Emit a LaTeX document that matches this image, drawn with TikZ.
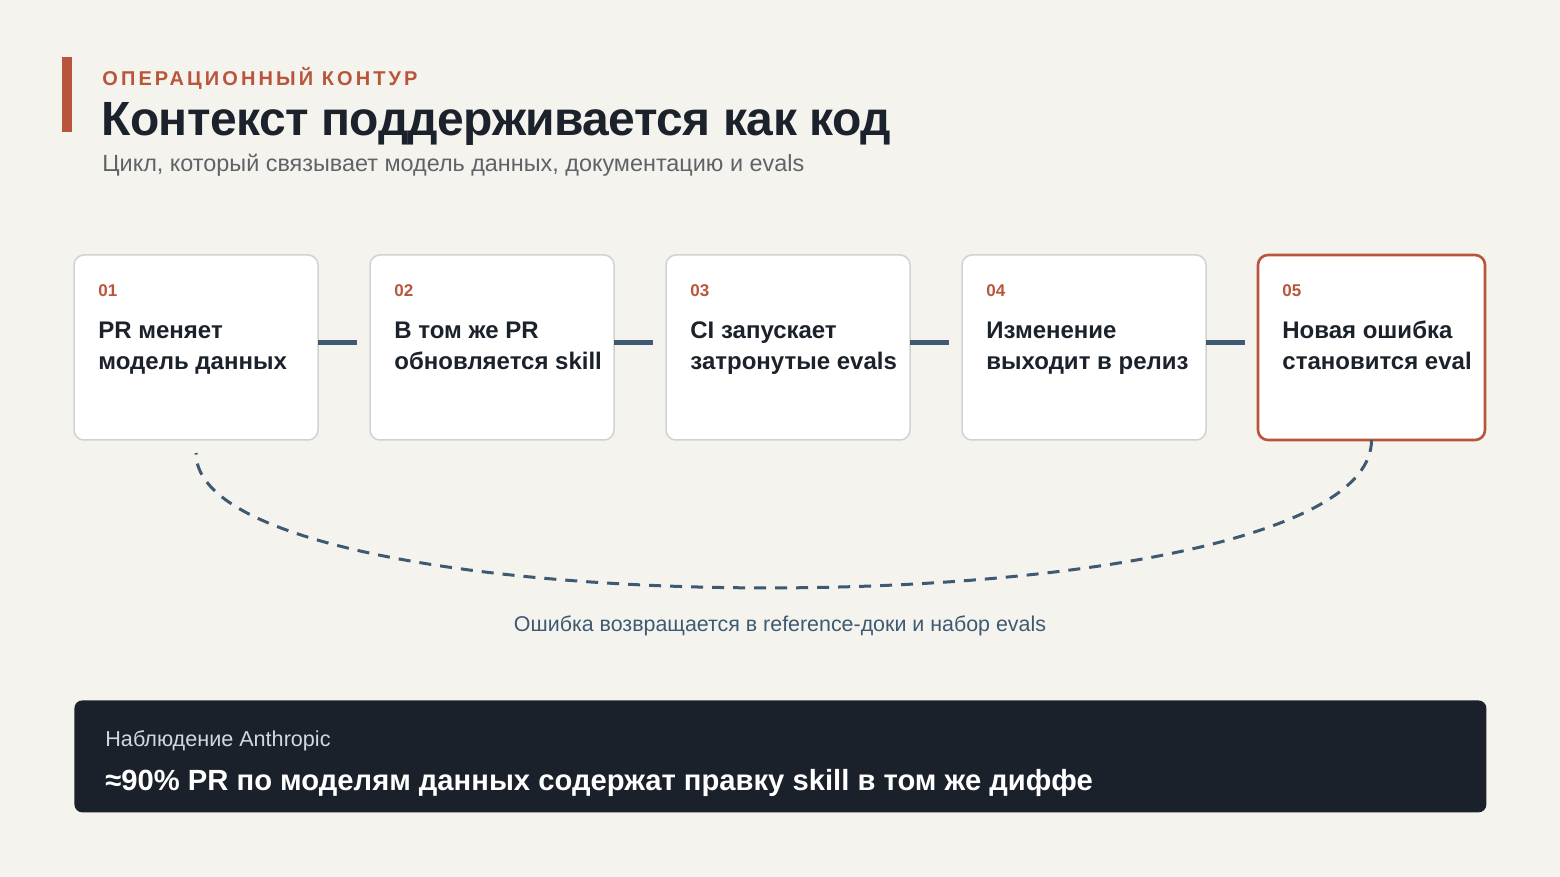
\documentclass[tikz,border=0pt]{standalone}
\usepackage{fontspec}
\setmainfont{Liberation Sans}
\usetikzlibrary{positioning}
\tikzset{
stage_box/.style={
	% The shape:
	rectangle,
	rounded corners=5pt,
	% The size:
	minimum width=122pt,
	minimum height=92.5pt,
	outer sep=0pt,
	% The border:
	draw=boxline,
	line width=0.75pt,
	% The filling:
	fill=white,
	anchor=north west
},
last_box/.style={
	stage_box,
	minimum width=113.5pt,
	% orange border for the last step
	draw=accent,
	line width=1.3pt
},
step_num/.style={anchor=base west,text=accent,font=\fontsize{8.5}{10}\selectfont\bfseries},
step_text/.style={anchor=base west,align=left,text=ink,font=\fontsize{12}{15.5}\selectfont\bfseries},
link_line/.style={draw=slate,line width=2.2pt},
loop_line/.style={draw=slate,line width=1.5pt,dash pattern=on 6pt off 4.5pt}
}
\definecolor{page_bg}{HTML}{F5F3EE}
\definecolor{ink}{HTML}{1B222C}
\definecolor{accent}{HTML}{B9553A}
\definecolor{slate}{HTML}{3E5A72}
\definecolor{boxline}{HTML}{D2D2D0}
\definecolor{subgray}{HTML}{5F6368}
\definecolor{panel}{HTML}{1B212A}
\definecolor{panel_text}{HTML}{D4D8DE}

\begin{document}
\begin{tikzpicture}[x=0.5pt,y=-0.5pt,node distance=26pt]
	\tikzstyle{every node}=[inner sep=0pt]
	\fill[page_bg] (0,0) rectangle (1560,877);
	\useasboundingbox (0,0) rectangle (1560,877);

	% header
	\fill[accent] (62,57) rectangle (72,132);
	\node[anchor=base west,text=accent,font=\fontsize{10}{12}\selectfont\bfseries\addfontfeatures{LetterSpace=15.5}] (kicker) at (102,86) {ОПЕРАЦИОННЫЙ КОНТУР};
	\node[anchor=base west,text=ink,font=\fontsize{24}{30}\selectfont\bfseries\addfontfeatures{LetterSpace=-1.2}] (title) at (101,136) {Контекст поддерживается как код};
	\node[anchor=base west,text=subgray,font=\fontsize{11.7}{14}\selectfont] (subtitle) at (102,172) {Цикл, который связывает модель данных, документацию и evals};

	% the five steps
	\node[stage_box] (b1) at (74,255) {};
	\node[stage_box] (b2) [right=of b1.north east,anchor=north west] {};
	\node[stage_box] (b3) [right=of b2.north east,anchor=north west] {};
	\node[stage_box] (b4) [right=of b3.north east,anchor=north west] {};
	\node[last_box] (b5) [right=of b4.north east,anchor=north west] {};

	\node[step_num] (n1) at ([xshift=12pt,yshift=-21pt]b1.north west) {01};
	\node[step_num] (n2) at ([xshift=12pt,yshift=-21pt]b2.north west) {02};
	\node[step_num] (n3) at ([xshift=12pt,yshift=-21pt]b3.north west) {03};
	\node[step_num] (n4) at ([xshift=12pt,yshift=-21pt]b4.north west) {04};
	\node[step_num] (n5) at ([xshift=12pt,yshift=-21pt]b5.north west) {05};

	\node[step_text] (t1) at ([xshift=12pt,yshift=-57.5pt]b1.north west) {PR меняет\\модель данных};
	\node[step_text] (t2) at ([xshift=12pt,yshift=-57.5pt]b2.north west) {В том же PR\\обновляется skill};
	\node[step_text] (t3) at ([xshift=12pt,yshift=-57.5pt]b3.north west) {CI запускает\\затронутые evals};
	\node[step_text] (t4) at ([xshift=12pt,yshift=-57.5pt]b4.north west) {Изменение\\выходит в релиз};
	\node[step_text] (t5) at ([xshift=12pt,yshift=-57.5pt]b5.north west) {Новая ошибка\\становится eval};

	\path[link_line] ([yshift=2.5pt]b1.east) edge ([xshift=-6.5pt,yshift=2.5pt]b2.west)
		([yshift=2.5pt]b2.east) edge ([xshift=-6.5pt,yshift=2.5pt]b3.west)
		([yshift=2.5pt]b3.east) edge ([xshift=-6.5pt,yshift=2.5pt]b4.west)
		([yshift=2.5pt]b4.east) edge ([xshift=-6.5pt,yshift=2.5pt]b5.west);

	% feedback loop
	\draw[loop_line] (b5.south) .. controls ++(0,195) and ++(0,182) .. ([yshift=-6.5pt]b1.south);
	\node[anchor=base,text=slate,font=\fontsize{10.7}{12}\selectfont] (back) at (780,631) {Ошибка возвращается в reference-доки и набор evals};

	% observation panel
	\node[fill=panel,rounded corners=4pt,minimum width=706pt,minimum height=56pt,anchor=north west] (obs) at (74,700) {};
	\node[anchor=base west,text=panel_text,font=\fontsize{10.8}{12}\selectfont] (obs_head) at ([xshift=15.5pt,yshift=-23pt]obs.north west) {Наблюдение Anthropic};
	\node[anchor=base west,text=white,font=\fontsize{14.6}{17}\selectfont\bfseries] (obs_text) at ([xshift=15.5pt,yshift=-45pt]obs.north west) {≈90\% PR по моделям данных содержат правку skill в том же диффе};
\end{tikzpicture}
\end{document}
